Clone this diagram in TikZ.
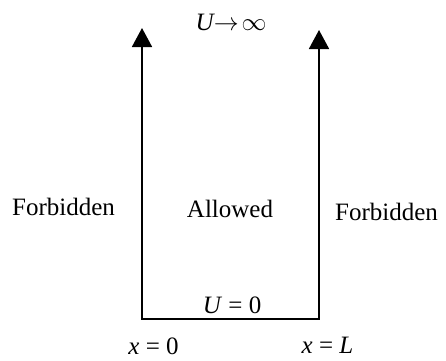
\documentclass[tikz,border=0pt]{standalone}
\usepackage{fontspec}
\setmainfont{Liberation Serif}
\usetikzlibrary{arrows.meta}
\begin{document}
\begin{tikzpicture}[x=1pt,y=-1pt,
  lbl/.style={anchor=base,inner sep=0pt,font=\fontsize{25}{30}\selectfont},
  wall/.style={line width=1.8pt,-{Triangle[length=19pt,width=20pt]}},
  floor/.style={line width=1.8pt}]
\useasboundingbox (0,0) rectangle (446,360);
\coordinate (bl) at (142,319);
\coordinate (br) at (319,319);
\coordinate (tl) at (142,28);
\coordinate (tr) at (319,30);
\draw[floor,line cap=rect] (bl) -- (br);
\draw[wall] (bl) -- (tl);
\draw[wall] (br) -- (tr);
\node[lbl] (inf) at (231,30) {\textit{U}\kern-1pt$\rightarrow\!\infty$};
\node[lbl] (fl) at (63.5,215) {Forbidden};
\node[lbl] (al) at (230,217) {Allowed};
\node[lbl] (fr) at (386.5,220) {Forbidden};
\node[lbl] (u0) at (232,313) {\textit{U} = 0};
\node[lbl] (x0) at (153.5,354) {\textit{x} = 0};
\node[lbl] (xl) at (327.5,353) {\textit{x} = \textit{L}};
\end{tikzpicture}
\end{document}
